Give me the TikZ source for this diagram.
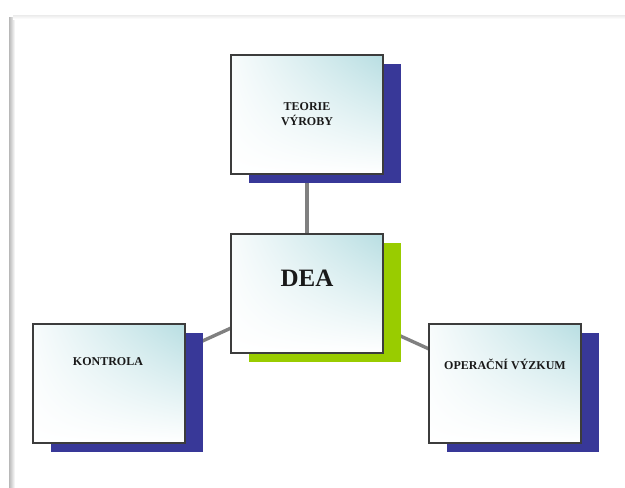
\documentclass[tikz,border=0pt]{standalone}
\usepackage{fontspec}
\setmainfont{Liberation Serif}
\usetikzlibrary{shadows,backgrounds,shadings}
\definecolor{shblue}{RGB}{56,56,152}
\definecolor{shgreen}{RGB}{153,204,0}
\definecolor{tealtop}{RGB}{184,222,226}
\definecolor{edge}{RGB}{60,60,60}
\definecolor{conn}{RGB}{128,128,128}
\tikzset{
  card/.style={draw=edge, line width=1.6pt, minimum width=152pt, minimum height=119pt,
    inner sep=0pt, shade, upper right=tealtop, upper left=white!90!tealtop, lower left=white, lower right=white},
  blueshadow/.style={general shadow={shadow xshift=18pt, shadow yshift=-9pt, fill=shblue}},
  greenshadow/.style={general shadow={shadow xshift=18pt, shadow yshift=-9pt, fill=shgreen}},
  lbl/.style={font=\bfseries\fontsize{12}{15}\selectfont, align=center, text=black!90},
  link/.style={draw=conn, line width=3.4pt}
}
\begin{document}
\begin{tikzpicture}[x=1pt,y=-1pt]
\useasboundingbox (0,0) rectangle (625,488);
% page frame
\shade[left color=black!28, right color=white] (9,17) rectangle (15,488);
\shade[top color=black!8, bottom color=white] (13,15) rectangle (625,19);
% boxes
\node[card, blueshadow] (top) at (307,114.5) {};
\node[card, greenshadow] (dea) at (307,293.5) {};
\node[card, blueshadow] (left) at (109,383.5) {};
\node[card, blueshadow] (right) at (505,383.5) {};
% labels
\node[lbl] (ttop) at (307,114.5) {TEORIE\\VÝROBY};
\node[lbl, font=\bfseries\fontsize{25}{29}\selectfont] (tdea) at (307,278) {DEA};
\node[lbl] (tleft) at (108,362) {KONTROLA};
\node[lbl] (tright) at (505,364) {OPERAČNÍ VÝZKUM};
% connectors
\begin{scope}[on background layer]
\draw[link] (top.center) -- (dea.center);
\draw[link] (dea.center) -- (left.center);
\draw[link] (dea.center) -- (right.center);
\end{scope}
\end{tikzpicture}
\end{document}
